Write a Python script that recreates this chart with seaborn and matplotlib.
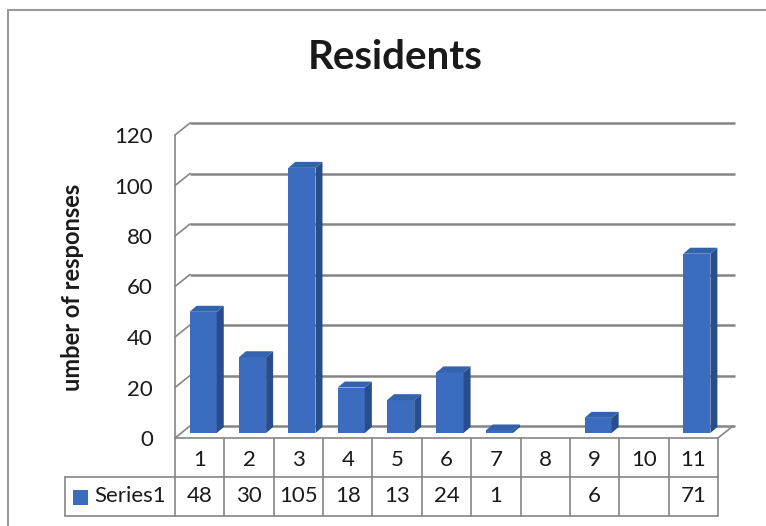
import numpy as np
import pandas as pd
import matplotlib
matplotlib.use("Agg")
import matplotlib.pyplot as plt
import seaborn as sns
from matplotlib.patches import Polygon, Rectangle
from matplotlib.lines import Line2D

# ---------------- data ----------------
categories = ["1", "2", "3", "4", "5", "6", "7", "8", "9", "10", "11"]
values = [48, 30, 105, 18, 13, 24, 1, np.nan, 6, np.nan, 71]
table_values = ["48", "30", "105", "18", "13", "24", "1", "", "6", "", "71"]
series_name = "Series1"
yticks = [0, 20, 40, 60, 80, 100, 120]
title = "Residents"
ylabel = "umber of responses"

# ---------------- style ----------------
FRONT = "#3b6cbe"
SIDE = "#284d8c"
TOP = "#3463ad"
GRID = "#858585"
TXT = "#1a1a1a"

W, H = 766, 526
sns.set_style("white")
plt.rcParams['font.family'] = ['Lato', 'DejaVu Sans']

fig = plt.figure(figsize=(W / 100, H / 100), dpi=100)
L, R, B, T = 175, 718, 438, 135  # pixel box of the front plane (top-origin)
ax = fig.add_axes([L / W, 1 - B / H, (R - L) / W, (B - T) / H])

df = pd.DataFrame({"cat": categories, "val": values})
sns.barplot(data=df, x="cat", y="val", order=categories, width=0.55,
            color=FRONT, saturation=1, ax=ax, zorder=4, edgecolor="none",
            linewidth=0)

ax.set_xlim(-0.5, len(categories) - 0.5)
ax.set_ylim(yticks[0], yticks[-1])
xr = len(categories) - 0.5
px_x = len(categories) / (R - L)
px_y = (yticks[-1] - yticks[0]) / (B - T)

# depth of the 3D box
DX, DY = 15 * px_x, 12 * px_y
# bar placement inside depth
bx, by = 3.5 * px_x, 5 * px_y
bdx, bdy = 7 * px_x, 6 * px_y

# back wall gridlines and left wall slants
for v in yticks:
    ax.plot([-0.5 + DX, xr + DX + 2 * px_x], [v + DY, v + DY], color=GRID,
            lw=1.8, zorder=1, clip_on=False, solid_capstyle="butt")
    ax.plot([-0.5, -0.5 + DX], [v, v + DY], color=GRID, lw=1.2, zorder=1,
            clip_on=False)
ax.plot([-0.5, -0.5], [yticks[0], yticks[-1]], color=GRID, lw=1.2, zorder=2,
        clip_on=False)
ax.plot([xr, xr + DX], [0, DY], color=GRID, lw=1.2, zorder=2, clip_on=False)

# 3D bars: move fronts into depth, add sides and tops
for p in ax.patches:
    h = p.get_height()
    if not np.isfinite(h):
        continue
    x0 = p.get_x() + bx
    w = p.get_width()
    y0 = p.get_y() + by
    p.set_x(x0)
    p.set_y(y0)
    side = Polygon([(x0 + w, y0), (x0 + w + bdx, y0 + bdy),
                    (x0 + w + bdx, y0 + h + bdy), (x0 + w, y0 + h)],
                   closed=True, facecolor=SIDE, edgecolor="none", zorder=4,
                   clip_on=False)
    top = Polygon([(x0, y0 + h), (x0 + bdx, y0 + h + bdy),
                   (x0 + w + bdx, y0 + h + bdy), (x0 + w, y0 + h)],
                  closed=True, facecolor=TOP, edgecolor="none", zorder=4,
                  clip_on=False)
    ax.add_patch(side)
    ax.add_patch(top)
    p.set_clip_on(False)

# axes cosmetics
for s in ax.spines.values():
    s.set_visible(False)
ax.set_xticks([])
ax.set_xlabel("")
ax.set_ylabel("")
ax.set_yticks(yticks)
ax.set_yticklabels([str(v) for v in yticks])
ax.tick_params(axis='y', length=0, pad=16, labelsize=16, labelcolor=TXT)
ax.patch.set_alpha(0)

# data table
rh = 39 * px_y
leg_left = -0.5 - 110 * px_x
tl = dict(color=GRID, lw=1.2, zorder=2, clip_on=False)
ax.plot([-0.5, xr], [0, 0], **tl)
ax.plot([leg_left, xr], [-rh, -rh], **tl)
ax.plot([leg_left, xr], [-2 * rh, -2 * rh], **tl)
ax.plot([leg_left, leg_left], [-rh, -2 * rh], **tl)
for k in range(len(categories) + 1):
    ax.plot([k - 0.5, k - 0.5], [0, -2 * rh], **tl)
for i, (c, tv) in enumerate(zip(categories, table_values)):
    ax.text(i, -rh / 2 - 3 * px_y, c, ha="center", va="center", fontsize=16,
            color=TXT, clip_on=False)
    if tv:
        ax.text(i, -1.5 * rh, tv, ha="center", va="center", fontsize=16,
                color=TXT, clip_on=False)
ax.add_patch(Rectangle((-0.5 - 102 * px_x, -rh - 28 * px_y), 15 * px_x,
                       15 * px_y, facecolor=FRONT, edgecolor="none",
                       clip_on=False))
ax.text(-0.5 - 81 * px_x, -1.5 * rh, series_name, ha="left", va="center",
        fontsize=16, color=TXT, clip_on=False)

# title, axis label
fig.text(395 / W, 1 - 58 / H, title, ha="center", va="center", fontsize=29,
         fontweight="bold", color=TXT)
fig.text(72 / W, 1 - 287 / H, ylabel, ha="center", va="center", rotation=90,
         fontsize=17, fontweight="bold", color=TXT)

# chart border (top and left visible)
fig.add_artist(Line2D([8 / W, 1.0], [1 - 10 / H, 1 - 10 / H],
                      transform=fig.transFigure, color="#9a9a9a", lw=1.5))
fig.add_artist(Line2D([8 / W, 8 / W], [1 - 10 / H, 0.0],
                      transform=fig.transFigure, color="#9a9a9a", lw=1.5))

fig.savefig("out.png", dpi=100, facecolor="white")
